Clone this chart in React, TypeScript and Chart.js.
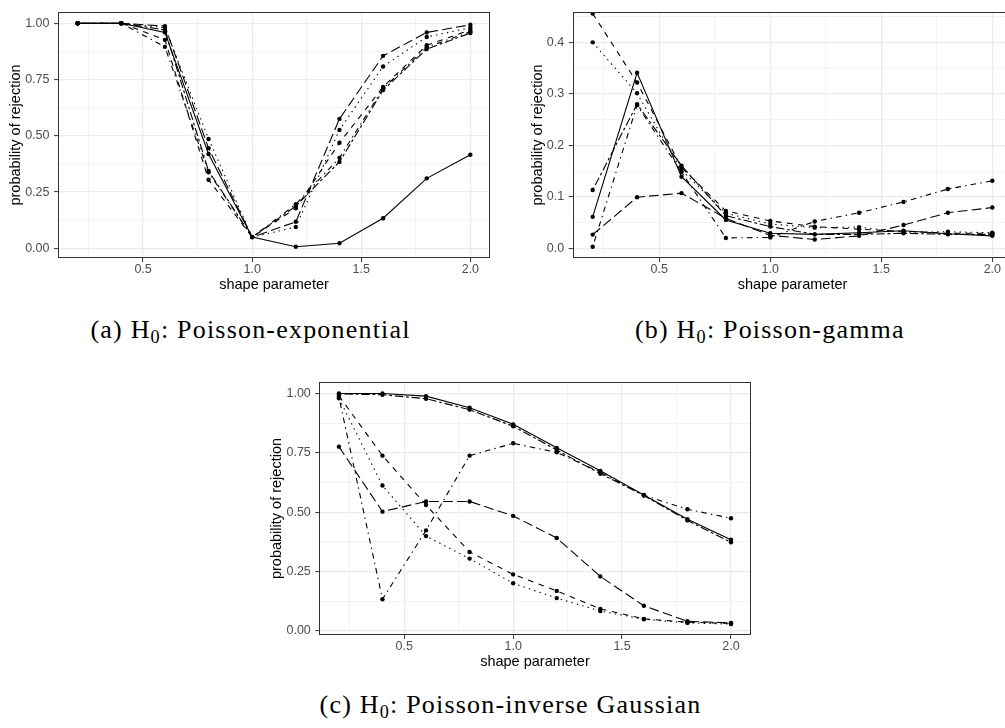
import React, { useEffect, useRef } from "react";
import { Chart, registerables } from "chart.js";

Chart.register(...registerables);

// ---------- data ----------
const shapeParams = [0.2, 0.4, 0.6, 0.8, 1.0, 1.2, 1.4, 1.6, 1.8, 2.0];
const xMajorTicks = [0.5, 1.0, 1.5, 2.0];
const xMinorTicks = [0.25, 0.75, 1.25, 1.75];

const yMajorTicksAC = [0, 0.25, 0.5, 0.75, 1.0];
const yMinorTicksAC = [0.125, 0.375, 0.625, 0.875];
const yMajorTicksB = [0, 0.1, 0.2, 0.3, 0.4];
const yMinorTicksB = [0.05, 0.15, 0.25, 0.35, 0.45];

const xAxisTitle = "shape parameter";
const yAxisTitle = "probability of rejection";

// (a) H0: Poisson-exponential
const expSolid = [1.0, 1.0, 0.959, 0.419, 0.05, 0.007, 0.023, 0.134, 0.311, 0.416];
const expDashed = [1.0, 1.0, 0.926, 0.305, 0.05, 0.178, 0.469, 0.717, 0.902, 0.97];
const expDotted = [1.0, 1.0, 0.98, 0.486, 0.05, 0.095, 0.526, 0.808, 0.939, 0.98];
const expDotdash = [1.0, 1.0, 0.895, 0.338, 0.05, 0.196, 0.402, 0.71, 0.893, 0.962];
const expLongdash = [1.0, 1.0, 0.987, 0.445, 0.05, 0.118, 0.575, 0.855, 0.959, 0.993];
const expTwodash = [1.0, 1.0, 0.97, 0.344, 0.05, 0.188, 0.384, 0.703, 0.885, 0.956];

// (b) H0: Poisson-gamma
const gamSolid = [0.061, 0.341, 0.139, 0.055, 0.029, 0.027, 0.03, 0.034, 0.028, 0.024];
const gamDashed = [0.456, 0.322, 0.157, 0.0725, 0.053, 0.042, 0.037, 0.033, 0.029, 0.029];
const gamDotted = [0.4, 0.301, 0.152, 0.068, 0.047, 0.04, 0.041, 0.031, 0.032, 0.03];
const gamDotdash = [0.003, 0.278, 0.148, 0.02, 0.021, 0.052, 0.069, 0.09, 0.115, 0.131];
const gamLongdash = [0.0265, 0.099, 0.107, 0.058, 0.025, 0.017, 0.024, 0.045, 0.069, 0.079];
const gamTwodash = [0.113, 0.28, 0.1605, 0.063, 0.042, 0.027, 0.027, 0.029, 0.027, 0.027];

// (c) H0: Poisson-inverse Gaussian
const igSolid = [1.0, 1.0, 0.989, 0.94, 0.87, 0.771, 0.674, 0.572, 0.47, 0.384];
const igDashed = [0.99, 0.738, 0.53, 0.332, 0.2375, 0.168, 0.092, 0.05, 0.036, 0.031];
const igDotted = [0.98, 0.612, 0.399, 0.304, 0.2, 0.1375, 0.083, 0.0486, 0.033, 0.028];
const igDotdash = [0.985, 0.133, 0.423, 0.738, 0.79, 0.752, 0.668, 0.571, 0.512, 0.474];
const igLongdash = [0.776, 0.502, 0.545, 0.545, 0.484, 0.391, 0.229, 0.105, 0.04, 0.033];
const igTwodash = [0.998, 0.995, 0.978, 0.932, 0.862, 0.762, 0.662, 0.57, 0.465, 0.373];

// ---------- styles ----------
const LINE_DASH: Record<string, number[]> = {
  solid: [],
  dashed: [5.6, 5.6],
  dotted: [1.4, 4.2],
  dotdash: [1.4, 4.2, 5.6, 4.2],
  longdash: [9.8, 4.2],
  twodash: [2.8, 2.8, 8.4, 2.8],
};

const SANS = '"Liberation Sans", Arial, sans-serif';
const TICK_SIZE = 12.5;
const TITLE_SIZE = 14.5;
const TITLE_LH = 1.2;

type Box = { x: number; y: number; w: number; h: number };
type Plot = { l: number; r: number; t: number; b: number };
type Series = { values: number[]; dash: string };
type PanelSpec = {
  canvas: Box;
  plot: Plot;
  yTitleX: number;
  xTitleY: number;
  yMin: number;
  yMax: number;
  yMajor: number[];
  yMinor: number[];
  yDecimals: number;
  series: Series[];
};

const panels: PanelSpec[] = [
  {
    canvas: { x: 0, y: 0, w: 500, h: 300 },
    plot: { l: 58, r: 490, t: 2.5, b: 258 },
    yTitleX: 15.8,
    xTitleY: 285,
    yMin: -0.0427,
    yMax: 1.0497,
    yMajor: yMajorTicksAC,
    yMinor: yMinorTicksAC,
    yDecimals: 2,
    series: [
      { values: expDashed, dash: "dashed" },
      { values: expDotted, dash: "dotted" },
      { values: expDotdash, dash: "dotdash" },
      { values: expLongdash, dash: "longdash" },
      { values: expTwodash, dash: "twodash" },
      { values: expSolid, dash: "solid" },
    ],
  },
  {
    canvas: { x: 500, y: 0, w: 520, h: 300 },
    plot: { l: 572.7, r: 1012.3, t: 11.7, b: 258 },
    yTitleX: 538,
    xTitleY: 285,
    yMin: -0.019,
    yMax: 0.459,
    yMajor: yMajorTicksB,
    yMinor: yMinorTicksB,
    yDecimals: 1,
    series: [
      { values: gamDashed, dash: "dashed" },
      { values: gamDotted, dash: "dotted" },
      { values: gamDotdash, dash: "dotdash" },
      { values: gamLongdash, dash: "longdash" },
      { values: gamTwodash, dash: "twodash" },
      { values: gamSolid, dash: "solid" },
    ],
  },
  {
    canvas: { x: 255, y: 370, w: 505, h: 305 },
    plot: { l: 319.3, r: 750.6, t: 379.7, b: 635 },
    yTitleX: 277,
    xTitleY: 661.7,
    yMin: -0.018,
    yMax: 1.0485,
    yMajor: yMajorTicksAC,
    yMinor: yMinorTicksAC,
    yDecimals: 2,
    series: [
      { values: igDashed, dash: "dashed" },
      { values: igDotted, dash: "dotted" },
      { values: igDotdash, dash: "dotdash" },
      { values: igLongdash, dash: "longdash" },
      { values: igTwodash, dash: "twodash" },
      { values: igSolid, dash: "solid" },
    ],
  },
];

const isIn = (v: number, arr: number[]) => arr.some((a) => Math.abs(a - v) < 1e-6);

const panelBorder = {
  id: "panelBorder",
  afterDraw(chart: any) {
    const { ctx, chartArea: a } = chart;
    ctx.save();
    ctx.strokeStyle = "#333333";
    ctx.lineWidth = 1;
    ctx.setLineDash([]);
    const l = Math.round(a.left) + 0.5;
    const t = Math.round(a.top) + 0.5;
    const r = Math.round(a.right) - 0.5;
    const b = Math.round(a.bottom) - 0.5;
    ctx.strokeRect(l, t, r - l, b - t);
    ctx.restore();
  },
};

function PanelChart({ spec }: { spec: PanelSpec }) {
  const ref = useRef<HTMLCanvasElement>(null);
  useEffect(() => {
    const { canvas: c, plot: p } = spec;
    const half = (TITLE_SIZE * TITLE_LH) / 2;
    const xTicksAll = [...xMinorTicks, ...xMajorTicks].sort((a, b) => a - b);
    const yTicksAll = [...spec.yMinor, ...spec.yMajor].sort((a, b) => a - b);
    const chart = new Chart(ref.current!, {
      type: "line",
      data: {
        datasets: spec.series.map((s) => ({
          data: shapeParams.map((x, i) => ({ x, y: s.values[i] })),
          borderColor: "#000000",
          backgroundColor: "#000000",
          borderWidth: 1.1,
          borderDash: LINE_DASH[s.dash],
          pointRadius: 2.2,
          pointHoverRadius: 2.2,
          pointBorderWidth: 0,
          pointBackgroundColor: "#000000",
          tension: 0,
          fill: false,
        })),
      },
      options: {
        animation: false,
        responsive: false,
        devicePixelRatio: 1,
        events: [],
        layout: {
          padding: { left: 0, top: p.t - c.y, right: c.x + c.w - p.r, bottom: 0 },
        },
        plugins: { legend: { display: false }, tooltip: { enabled: false } },
        scales: {
          x: {
            type: "linear",
            min: 0.11,
            max: 2.09,
            afterBuildTicks: (s: any) => {
              s.ticks = xTicksAll.map((value) => ({ value }));
            },
            afterFit: (s: any) => {
              s.height = c.y + c.h - p.b;
            },
            ticks: {
              autoSkip: false,
              maxRotation: 0,
              padding: 0,
              color: "#4D4D4D",
              font: { family: SANS, size: TICK_SIZE, lineHeight: 1.2 },
              callback: (v: any) => (isIn(Number(v), xMajorTicks) ? Number(v).toFixed(1) : ""),
            },
            grid: {
              color: "#EBEBEB",
              lineWidth: (ctx: any) => (ctx.tick && isIn(ctx.tick.value, xMajorTicks) ? 1.2 : 0.6),
              tickLength: 4,
              tickWidth: 1,
              tickColor: (ctx: any) =>
                ctx.tick && isIn(ctx.tick.value, xMajorTicks) ? "#333333" : "rgba(0,0,0,0)",
            },
            border: { display: false },
            title: {
              display: true,
              text: xAxisTitle,
              color: "#000000",
              font: { family: SANS, size: TITLE_SIZE, lineHeight: TITLE_LH },
              padding: { top: 0, bottom: c.y + c.h - spec.xTitleY - half },
            },
          },
          y: {
            type: "linear",
            min: spec.yMin,
            max: spec.yMax,
            afterBuildTicks: (s: any) => {
              s.ticks = yTicksAll.map((value) => ({ value }));
            },
            afterFit: (s: any) => {
              s.width = p.l - c.x;
            },
            ticks: {
              autoSkip: false,
              padding: 4.5,
              color: "#4D4D4D",
              font: { family: SANS, size: TICK_SIZE, lineHeight: 1.2 },
              callback: (v: any) =>
                isIn(Number(v), spec.yMajor) ? Number(v).toFixed(spec.yDecimals) : "",
            },
            grid: {
              color: "#EBEBEB",
              lineWidth: (ctx: any) => (ctx.tick && isIn(ctx.tick.value, spec.yMajor) ? 1.2 : 0.6),
              tickLength: 4,
              tickWidth: 1,
              tickColor: (ctx: any) =>
                ctx.tick && isIn(ctx.tick.value, spec.yMajor) ? "#333333" : "rgba(0,0,0,0)",
            },
            border: { display: false },
            title: {
              display: true,
              text: yAxisTitle,
              color: "#000000",
              font: { family: SANS, size: TITLE_SIZE, lineHeight: TITLE_LH },
              padding: { top: spec.yTitleX - c.x - half, bottom: 0 },
            },
          },
        },
      },
      plugins: [panelBorder],
    } as any);
    return () => chart.destroy();
  }, [spec]);
  const c = spec.canvas;
  return (
    <canvas
      ref={ref}
      width={c.w}
      height={c.h}
      style={{ position: "absolute", left: c.x, top: c.y, width: c.w, height: c.h }}
    />
  );
}

const captionStyle: React.CSSProperties = {
  position: "absolute",
  width: 600,
  fontFamily: '"Liberation Serif", "Times New Roman", serif',
  fontSize: 26,
  lineHeight: "26px",
  letterSpacing: "1.2px",
  color: "#000",
  whiteSpace: "nowrap",
};
const subStyle: React.CSSProperties = {
  fontSize: "0.7em",
  verticalAlign: "-0.25em",
  lineHeight: 0,
};

export default function App() {
  return (
    <div
      style={{
        position: "fixed",
        left: 0,
        top: 0,
        width: 1005,
        height: 728,
        overflow: "hidden",
        background: "#ffffff",
      }}
    >
      {panels.map((p, i) => (
        <PanelChart key={i} spec={p} />
      ))}
      <div style={{ ...captionStyle, left: 410.7 - 600, top: 317, textAlign: "right" }}>
        (a) H<sub style={subStyle}>0</sub>: Poisson-exponential
      </div>
      <div style={{ ...captionStyle, left: 635, top: 317, textAlign: "left" }}>
        (b) H<sub style={subStyle}>0</sub>: Poisson-gamma
      </div>
      <div style={{ ...captionStyle, left: 510.5 - 300, top: 692, textAlign: "center" }}>
        (c) H<sub style={subStyle}>0</sub>: Poisson-inverse Gaussian
      </div>
    </div>
  );
}
